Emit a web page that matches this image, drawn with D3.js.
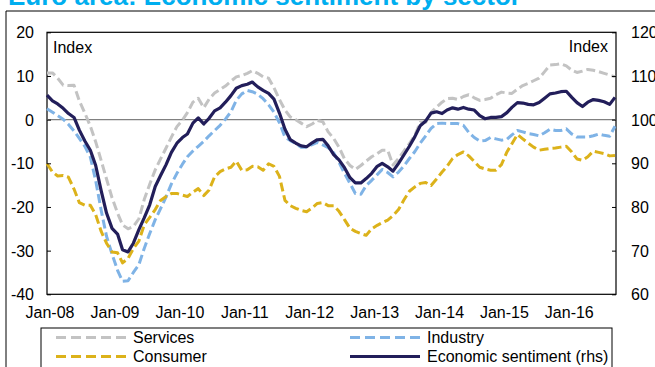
<!DOCTYPE html>
<html>
<head>
<meta charset="utf-8">
<script src="https://cdn.jsdelivr.net/npm/d3@7"></script>
<style>
  body { margin: 0; background: #fff; }
  text { font-family: "Liberation Sans", Arial, sans-serif; }
</style>
</head>
<body>
<div id="chart"></div>
<script>
// monthly data, Jan-08 .. Oct-16
var services = [
  10.7, 10.7, 9.5, 7.9, 7.8, 7.9, 4.3, 1.5, -1.5, -5.1,
  -9.4, -13.6, -17.9, -21.4, -24.1, -25.0, -24.5, -22.7, -18.3, -14.8,
  -11.5, -9.0, -6.5, -4.0, -1.6, -0.1, 1.6, 4.0, 4.9, 2.7,
  4.7, 6.1, 6.9, 7.7, 8.8, 9.8, 10.1, 10.6, 11.2, 10.6,
  9.8, 9.5, 7.3, 4.6, 2.2, 0.6, 0.0, -0.8, -1.6, -1.0,
  -0.2, -0.5, -2.8, -4.3, -6.3, -9.0, -10.5, -11.4, -10.5, -9.5,
  -8.5, -7.8, -7.0, -7.0, -10.4, -8.9, -7.2, -5.5, -3.6, -0.6,
  -0.6, 1.6, 2.9, 4.0, 4.8, 4.9, 4.6, 5.3, 5.7, 5.0,
  4.4, 4.6, 4.9, 5.7, 6.3, 6.1, 6.0, 7.0, 7.8, 8.3,
  8.9, 9.5, 11.0, 12.5, 12.6, 12.8, 12.3, 11.3, 10.8, 11.1,
  11.5, 11.3, 11.0, 10.6, 10.2, 9.8
];
var industry = [
  2.5, 1.7, 0.9, 0.1, -1.1, -2.6, -4.3, -6.1, -8.6, -14.0,
  -20.8, -26.7, -30.8, -34.5, -37.0, -36.9, -35.0, -33.2, -29.5, -26.1,
  -22.9, -20.4, -17.7, -14.7, -12.3, -10.2, -8.5, -7.2, -6.1, -5.0,
  -3.7, -2.5, -1.3, 0.1, 1.8, 4.4, 5.9, 6.7, 6.4, 5.8,
  4.8, 3.4, 1.7, -0.7, -4.0, -4.8, -5.5, -6.3, -6.3, -5.7,
  -5.2, -5.8, -6.4, -7.6, -9.8, -12.3, -14.6, -16.9, -17.1, -15.1,
  -13.9, -12.6, -11.4, -12.1, -13.1, -12.0, -10.6, -8.9, -7.3, -5.4,
  -3.7, -2.0, -0.9, -0.8, -0.9, -0.9, -0.9, -1.3, -2.9, -4.1,
  -4.9, -4.8, -4.1, -4.4, -4.7, -4.5, -3.5, -2.5, -2.8, -3.2,
  -3.4, -3.7, -3.0, -2.2, -2.5, -2.5, -2.1, -3.3, -4.0, -4.0,
  -4.0, -3.7, -3.3, -3.6, -3.8, -1.5
];
var consumer = [
  -10.1, -12.0, -12.9, -12.8, -13.2, -15.9, -19.0, -19.6, -19.6, -21.8,
  -25.6, -28.3, -30.3, -30.5, -32.8, -31.8, -29.5, -27.8, -24.1, -22.4,
  -20.6, -18.5, -17.6, -16.9, -16.9, -17.3, -17.6, -16.6, -15.8, -17.4,
  -16.1, -13.1, -11.9, -11.3, -10.9, -9.5, -11.6, -11.5, -10.7, -10.8,
  -11.6, -10.1, -10.7, -13.0, -18.5, -19.7, -20.3, -20.8, -21.1, -20.2,
  -19.2, -19.0, -19.7, -19.7, -21.0, -22.9, -24.9, -25.6, -26.1, -26.5,
  -25.0, -24.2, -23.6, -23.0, -22.0, -20.6, -18.4, -16.4, -15.4, -14.6,
  -14.4, -15.1, -13.6, -12.0, -10.7, -8.9, -8.0, -7.4, -8.3, -9.6,
  -10.9, -11.3, -11.6, -11.6, -10.3, -7.4, -5.5, -3.4, -4.4, -5.4,
  -6.3, -7.0, -6.8, -6.6, -6.5, -6.3, -6.1, -7.4, -9.0, -9.3,
  -8.5, -7.2, -7.5, -7.8, -8.3, -8.2
];
// economic sentiment indicator, right hand scale
var sentiment = [
  105.6, 104.3, 103.6, 102.6, 101.4, 100.5, 97.6, 95.1, 93.0, 89.5,
  83.7, 78.6, 75.1, 73.8, 70.2, 69.7, 71.7, 74.8, 77.5, 80.5,
  84.7, 87.2, 89.7, 92.5, 94.6, 95.9, 96.7, 99.2, 100.4, 99.0,
  100.3, 102.0, 102.7, 104.0, 105.5, 107.2, 107.8, 108.1, 108.6, 107.5,
  106.7, 106.0, 104.7, 101.5, 97.8, 95.4, 94.6, 94.0, 93.8, 94.7,
  95.4, 95.5, 94.0, 92.0, 90.8, 89.0, 86.7, 85.5, 85.5, 86.5,
  87.7, 89.3, 90.0, 89.2, 88.2, 90.0, 91.9, 93.9, 96.1, 98.6,
  99.7, 101.5, 101.8, 101.4, 102.2, 102.7, 102.4, 102.8, 102.4, 102.2,
  100.9, 100.2, 100.5, 100.5, 100.7, 101.6, 102.8, 103.9, 103.8, 103.5,
  103.4, 103.9, 104.9, 105.9, 106.1, 106.4, 106.5, 105.1, 103.9, 103.0,
  104.0, 104.6, 104.4, 104.1, 103.5, 105.1
];

var xLabels = ["Jan-08", "Jan-09", "Jan-10", "Jan-11", "Jan-12", "Jan-13", "Jan-14", "Jan-15", "Jan-16"];
var leftTicks = [-40, -30, -20, -10, 0, 10, 20];
var rightTicks = [60, 70, 80, 90, 100, 110, 120];

var chart_width = 655, chart_height = 367;
var plot_left = 47, plot_right = 616, plot_top = 32.3, plot_bottom = 294.3;

var months = d3.timeMonth.range(new Date(2008, 0, 1), new Date(2016, 10, 1));

var svg = d3.select("#chart").append("svg")
  .attr("width", chart_width)
  .attr("height", chart_height);

var x = d3.scaleTime()
  .domain([months[0], months[months.length - 1]])
  .range([plot_left, 615]);
var yL = d3.scaleLinear().domain([-40, 20]).range([plot_bottom, plot_top]);
var yR = d3.scaleLinear().domain([60, 120]).range([plot_bottom, plot_top]);

// title (mostly cut off at the top)
svg.append("text")
  .attr("x", 8)
  .attr("y", 5)
  .style("font-size", "26px")
  .style("font-weight", "bold")
  .style("fill", "#00aeef")
  .text("Euro area: Economic sentiment by sector");

// outer frame
svg.append("path")
  .attr("d", "M6," + chart_height + "V11H" + chart_width)
  .attr("fill", "none")
  .attr("stroke", "#000")
  .attr("stroke-width", 1);

// plot area
svg.append("rect")
  .attr("x", plot_left)
  .attr("y", plot_top)
  .attr("width", plot_right - plot_left)
  .attr("height", plot_bottom - plot_top)
  .attr("fill", "none")
  .attr("stroke", "#000")
  .attr("stroke-width", 1.2);

svg.append("line")
  .attr("x1", plot_left)
  .attr("x2", plot_right)
  .attr("y1", yL(0))
  .attr("y2", yL(0))
  .attr("stroke", "#808080")
  .attr("stroke-width", 1.2);

var series = [
  { name: "Services", values: services, color: "#c3c3c3", dash: "9,4", axis: yL },
  { name: "Industry", values: industry, color: "#7fb3e6", dash: "9,4", axis: yL },
  { name: "Consumer", values: consumer, color: "#dcb21a", dash: "9,4", axis: yL },
  { name: "Economic sentiment (rhs)", values: sentiment, color: "#221e5a", dash: null, axis: yR }
];

series.forEach(function (s) {
  var line = d3.line()
    .x(function (d, i) { return x(months[i]); })
    .y(function (d) { return s.axis(d); });
  svg.append("path")
    .datum(s.values)
    .attr("d", line)
    .attr("fill", "none")
    .attr("stroke", s.color)
    .attr("stroke-width", s.dash ? 3 : 3.2)
    .attr("stroke-dasharray", s.dash)
    .attr("stroke-linejoin", "round");
});

// axes (plain hyphen for negatives, as in the original)
var plain = function (d) { return String(d); };
var gl = svg.append("g")
  .attr("transform", "translate(" + plot_left + ",0)")
  .call(d3.axisLeft(yL).tickValues(leftTicks).tickFormat(plain).tickSize(-4).tickPadding(13));
var gr = svg.append("g")
  .attr("transform", "translate(" + plot_right + ",0)")
  .call(d3.axisRight(yR).tickValues(rightTicks).tickFormat(plain).tickSize(-4).tickPadding(15));
var gb = svg.append("g")
  .attr("transform", "translate(0," + plot_bottom + ")")
  .call(d3.axisBottom(x)
    .tickValues(xLabels.map(function (d, i) { return new Date(2008 + i, 0, 15); }))
    .tickFormat(function (d, i) { return xLabels[i]; })
    .tickSize(0)
    .tickPadding(12));

[gl, gr, gb].forEach(function (g) {
  g.select(".domain").remove();
  g.selectAll("line").attr("stroke", "#000");
  g.selectAll("text")
    .style("font-size", "16px")
    .style("font-family", "'Liberation Sans', Arial, sans-serif")
    .attr("fill", "#000");
});
gl.selectAll("text").attr("dy", "0.35em");
gr.selectAll("text").attr("dy", "0.35em");

svg.append("text").attr("x", 53).attr("y", 53).style("font-size", "16px").text("Index");
svg.append("text").attr("x", 608).attr("y", 52).attr("text-anchor", "end").style("font-size", "16px").text("Index");

// legend
svg.append("rect")
  .attr("x", 41)
  .attr("y", 328)
  .attr("width", 571)
  .attr("height", 60)
  .attr("fill", "none")
  .attr("stroke", "#000")
  .attr("stroke-width", 1);

var legendPos = [
  { x: 56, y: 337.5 },
  { x: 350, y: 337.5 },
  { x: 56, y: 356.5 },
  { x: 350, y: 356.5 }
];

series.forEach(function (s, i) {
  var p = legendPos[i];
  svg.append("line")
    .attr("x1", p.x)
    .attr("x2", p.x + 70)
    .attr("y1", p.y)
    .attr("y2", p.y)
    .attr("stroke", s.color)
    .attr("stroke-width", 3)
    .attr("stroke-dasharray", s.dash ? "10,5" : null);
  svg.append("text")
    .attr("x", p.x + 77)
    .attr("y", p.y + 5.7)
    .style("font-size", "16px")
    .text(s.name);
});
</script>
</body>
</html>
